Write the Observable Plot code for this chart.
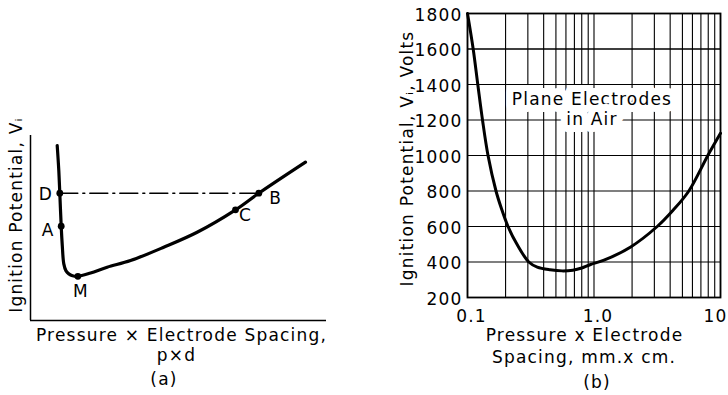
<!DOCTYPE html>
<html><head><meta charset="utf-8">
<script src="https://cdn.jsdelivr.net/npm/d3@7"></script>
<script src="https://cdn.jsdelivr.net/npm/@observablehq/plot@0.6"></script>
<style>
body{margin:0;background:#fff;}
#wrap{display:flex;width:728px;height:395px;overflow:hidden;}
#wrap svg text{letter-spacing:1.2px;}
</style></head><body><div id="wrap"></div>
<script>
// ---------- Panel (a): schematic Paschen curve (arbitrary units) ----------
const curveA_x = [0.0902, 0.0956, 0.099, 0.1037, 0.1074, 0.1125, 0.12, 0.1294, 0.142, 0.160, 0.203, 0.259, 0.338, 0.450, 0.563, 0.6926, 0.7713, 0.929];
const curveA_y = [0.946, 0.811, 0.688, 0.510, 0.405, 0.306, 0.268, 0.252, 0.242, 0.239, 0.257, 0.288, 0.324, 0.396, 0.477, 0.598, 0.688, 0.856];
const pointLabels = ["D", "A", "M", "C", "B"];
const pointX = [0.099, 0.1037, 0.160, 0.6926, 0.7713];
const pointY = [0.688, 0.510, 0.239, 0.598, 0.688];
const titleA_y = "Ignition Potential, V\u1d62";
const titleA_x1 = "Pressure \u00d7 Electrode Spacing,";
const titleA_x2 = "p\u00d7d";
const captionA = "(a)";

// ---------- Panel (b): Plane electrodes in air ----------
const curveB_pd = [0.1, 0.1109, 0.1206, 0.1314, 0.1453, 0.168, 0.1857, 0.2091, 0.2462, 0.3052, 0.356, 0.45, 0.56, 0.68, 0.8, 0.94, 1.2, 1.95, 3.16, 4.2, 5.62, 7.94, 10];
const curveB_v  = [1800, 1600, 1400, 1200, 1000, 800, 700, 600, 500, 400, 371, 356, 350, 354, 366, 386, 410, 485, 600, 690, 800, 1000, 1125];
const gridB_x = [0.1,0.2,0.3,0.4,0.5,0.6,0.7,0.8,0.9,1,2,3,4,5,6,7,8,9,10];
const gridB_y = [400, 600, 800, 1000, 1200, 1400, 1600];
const tickB_y = [200, 400, 600, 800, 1000, 1200, 1400, 1600, 1800];
const tickB_x = [0.1, 1, 10];
const tickB_xLabels = ["0.1", "1.0", "10"];
const noteB = "Plane Electrodes\nin Air";
const noteB_x = 1;
const noteB_y = 1265;
const titleB_y = "Ignition Potential, V\u1d62, Volts";
const titleB_x1 = "Pressure x Electrode";
const titleB_x2 = "Spacing, mm.x cm.";
const captionB = "(b)";

const FONT = "'DejaVu Sans', Verdana, sans-serif";
const FS = 17;
const baseStyle = {fontFamily: FONT, fontSize: FS + "px", background: "#fff", overflow: "visible", color: "black"};
const T = {fontSize: FS, fill: "black", textAnchor: "middle", lineAnchor: "middle"};

const labelOffsets = {D: [-14, 1], A: [-13, 4], M: [3, 15], C: [10, 6], B: [17, 5]};
const idx = pointLabels.map((_, i) => i);

const plotA = Plot.plot({
  width: 364, height: 395,
  marginLeft: 30, marginRight: 38, marginTop: 135, marginBottom: 75,
  x: {domain: [0, 1], axis: null},
  y: {domain: [0, 1], axis: null},
  style: baseStyle,
  marks: [
    Plot.ruleX([0], {x: d => d, stroke: "black", strokeWidth: 1.5}),
    Plot.ruleY([0], {y: d => d, stroke: "black", strokeWidth: 1.5}),
    Plot.line([0, 4], {x: i => pointX[i], y: i => pointY[i], stroke: "black", strokeWidth: 1.5, strokeDasharray: "18,5,2,5"}),
    Plot.line(curveA_x.map((_, i) => i), {x: i => curveA_x[i], y: i => curveA_y[i], curve: "catmull-rom", stroke: "black", strokeWidth: 3.2}),
    Plot.dot(idx, {x: i => pointX[i], y: i => pointY[i], r: 3.4, fill: "black", stroke: "none"}),
    ...idx.map(i => Plot.text([i], {...T, x: j => pointX[j], y: j => pointY[j], text: j => pointLabels[j], dx: labelOffsets[pointLabels[i]][0], dy: labelOffsets[pointLabels[i]][1]})),
    Plot.text([titleA_y], {...T, text: d => d, frameAnchor: "left", rotate: -90, dx: -14, dy: -13}),
    Plot.text([titleA_x1], {...T, text: d => d, frameAnchor: "bottom", dx: 3, dy: 15}),
    Plot.text([titleA_x2], {...T, text: d => d, frameAnchor: "bottom", dx: -2, dy: 35}),
    Plot.text([captionA], {...T, text: d => d, frameAnchor: "bottom", dx: -14.5, dy: 59})
  ]
});

const plotB = Plot.plot({
  width: 364, height: 395,
  marginLeft: 103, marginRight: 8, marginTop: 13, marginBottom: 98,
  x: {type: "log", domain: [0.1, 10], axis: null},
  y: {domain: [200, 1800], axis: null},
  style: baseStyle,
  marks: [
    Plot.ruleX(gridB_x, {x: d => d, stroke: "black", strokeWidth: 1.1}),
    Plot.ruleY(gridB_y, {y: d => d, stroke: "black", strokeWidth: 1.1}),
    Plot.text([noteB], {x: () => noteB_x, y: () => noteB_y, text: d => d, fontSize: FS, textAnchor: "middle", lineAnchor: "middle", dx: -2, lineHeight: 1.18, fill: "black", stroke: "white", strokeWidth: 14}),
    Plot.ruleY(gridB_y.filter(d => d > noteB_y), {y: d => d, stroke: "black", strokeWidth: 1.1}),
    Plot.frame({stroke: "black", strokeWidth: 1.8}),
    Plot.line(curveB_pd.map((_, i) => i), {x: i => curveB_pd[i], y: i => curveB_v[i], curve: "catmull-rom", stroke: "black", strokeWidth: 3}),
    Plot.text(tickB_y, {...T, y: d => d, text: d => String(d), frameAnchor: "left", textAnchor: "end", dx: -5, dy: 2}),
    Plot.text([0, 1], {...T, x: i => tickB_x[i], text: i => tickB_xLabels[i], frameAnchor: "bottom", dx: 4, dy: 19.5}),
    Plot.text([2], {...T, x: i => tickB_x[i], text: i => tickB_xLabels[i], frameAnchor: "bottom", dx: -5, dy: 19.5}),
    Plot.text([titleB_y], {...T, text: d => d, frameAnchor: "left", rotate: -90, dx: -60, dy: 3}),
    Plot.text([titleB_x1], {...T, text: d => d, frameAnchor: "bottom", dx: -9.5, dy: 38}),
    Plot.text([titleB_x2], {...T, text: d => d, frameAnchor: "bottom", dx: -10, dy: 60}),
    Plot.text([captionB], {...T, text: d => d, frameAnchor: "bottom", dx: 3, dy: 85})
  ]
});

const wrap = document.getElementById("wrap");
wrap.appendChild(plotA);
wrap.appendChild(plotB);
</script>
</body></html>
